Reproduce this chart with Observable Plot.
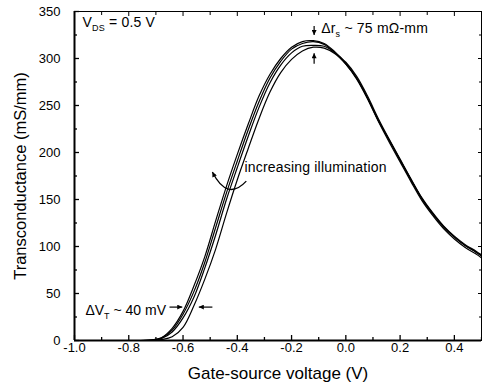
<!DOCTYPE html>
<html><head><meta charset="utf-8">
<script src="https://cdn.jsdelivr.net/npm/d3@7"></script>
<script src="https://cdn.jsdelivr.net/npm/@observablehq/plot@0.6"></script>
<style>body{margin:0;background:#fff}</style>
</head><body><div id="chart"></div>
<script>
// Gate-source voltage grid (V)
const volts = [-0.76,-0.72,-0.68,-0.64,-0.60,-0.56,-0.52,-0.48,-0.44,-0.40,-0.36,-0.32,-0.28,-0.24,-0.20,-0.16,-0.12,-0.08,-0.04,0.00,0.04,0.08,0.12,0.16,0.20,0.24,0.28,0.32,0.36,0.40,0.44,0.48,0.50];
// Transconductance (mS/mm), four illumination levels (most -> least illuminated)
const gmA = [0,0.5,3,13,31,58,89,127,164,198,230,260,283,300,312,318,319,316,307,295,279,258,234,213,192,171,151,135,121,110,101,94,90];
const gmB = [0,0.4,2.6,11,28,52,83,120,157,191,224,254,279,297,310,316,318,315,306,296,281,260,236,214,193,172,152,136,122,111,102,95,91];
const gmC = [0,0.3,2,9,24,46,77,112,150,184,217,248,274,293,306,313,314,313,306,294,278,257,233,211,190,169,149,133,119,108,99,92,88];
const gmD = [0,0,1,4,14,37,65,97,135,171,204,236,264,285,299,308,312,311,305,294,279,258,234,213,192,171,151,135,121,110,101,94,90];
const seriesNames = ["A","B","C","D"];

const xMajor = [-1.0,-0.8,-0.6,-0.4,-0.2,0.0,0.2,0.4];
const xMinor = [-0.9,-0.7,-0.5,-0.3,-0.1,0.1,0.3,0.5];
const yMajor = [0,50,100,150,200,250,300,350];
const yMinor = [25,75,125,175,225,275,325];

// annotation anchors (data units)
const vdsAt = [-0.969, 333];
const drsAt = [-0.089, 326.6];
const drsDown = [-0.115, 334, 324.5];
const drsUp = [-0.115, 294, 305];
const illumAt = [-0.372, 178.7];
const illumArrow = [[-0.365,169],[-0.435,147.3],[-0.49,178.7]];
const dvtAt = [-0.958, 26.6];
const dvtLeft = [-0.648, -0.601, 35];
const dvtRight = [-0.49, -0.540, 35];

const data = [];
[gmA,gmB,gmC,gmD].forEach((arr,k)=>arr.forEach((g,i)=>data.push({s:seriesNames[k], v:volts[i], g})));

const font = "'Liberation Sans', Arial, Helvetica, sans-serif";
const blank = () => "";
const plot = Plot.plot({
  width: 482, height: 391,
  marginLeft: 74, marginRight: 1, marginTop: 11, marginBottom: 51,
  style: {fontFamily: font, fontSize: "13px", color: "black", background: "white"},
  x: {domain: [-1, 0.5]},
  y: {domain: [0, 350]},
  marks: [
    Plot.line(data, {x:"v", y:"g", z:"s", stroke:"black", strokeWidth:1.2, curve:"catmull-rom", clip:true}),
    Plot.frame({stroke:"black", strokeWidth:1}),
    Plot.ruleX([-1], {stroke:"black", strokeWidth:2}),
    Plot.ruleY([0], {stroke:"black", strokeWidth:2}),
    Plot.axisX(xMajor, {anchor:"bottom", tickSize:-5, tickPadding:7, tickFormat:d=>d.toFixed(1), label:null, strokeWidth:1.3}),
    Plot.axisX(xMinor, {anchor:"bottom", tickSize:-3, tickFormat:blank, label:null, strokeWidth:1.3}),
    Plot.axisX(xMajor, {anchor:"top", tickSize:-4, tickFormat:blank, label:null}),
    Plot.axisX(xMinor, {anchor:"top", tickSize:-3, tickFormat:blank, label:null}),
    Plot.axisY(yMajor, {anchor:"left", tickSize:-5, tickPadding:19, tickFormat:d=>String(d), label:null, strokeWidth:1.3}),
    Plot.axisY(yMinor, {anchor:"left", tickSize:-3, tickFormat:blank, label:null, strokeWidth:1.3}),
    Plot.axisY(yMajor, {anchor:"right", tickSize:-4, tickFormat:blank, label:null}),
    Plot.axisY(yMinor, {anchor:"right", tickSize:-3, tickFormat:blank, label:null}),
    Plot.text(["Gate-source voltage (V)"], {frameAnchor:"bottom", textAnchor:"middle", dy:38, fontSize:17}),
    Plot.text(["Transconductance (mS/mm)"], {frameAnchor:"left", textAnchor:"middle", rotate:-90, dx:-54, fontSize:16.5})
  ]
});
document.getElementById("chart").appendChild(plot);

const sx = v => plot.scale("x").apply(v), sy = v => plot.scale("y").apply(v);
const svg = d3.select(plot);
svg.append("defs").append("marker").attr("id","ah").attr("viewBox","0 0 10 10")
  .attr("refX",10).attr("refY",5).attr("markerWidth",6).attr("markerHeight",5)
  .attr("markerUnits","userSpaceOnUse").attr("orient","auto")
  .append("path").attr("d","M0,0L10,5L0,10z").attr("fill","black");
const g = svg.append("g").attr("font-family", font).attr("font-size", 14).attr("fill","black")
  .attr("text-anchor","start").attr("letter-spacing", 0.2);

function subText(at, parts) {
  const t = g.append("text").attr("x", sx(at[0])).attr("y", sy(at[1]));
  parts.forEach(([s, sub]) => {
    const ts = t.append("tspan").text(s);
    if (sub === 1) ts.attr("font-size", 9).attr("dy", 4);
    if (sub === -1) ts.attr("dy", -4);
  });
  return t;
}
subText(vdsAt, [["V",0],["DS",1],[" = 0.5 V",-1]]);
subText(drsAt, [["\u0394r",0],["s",1],[" ~ 75 m\u03A9-mm",-1]]);
subText(dvtAt, [["\u0394V",0],["T",1],[" ~ 40 mV",-1]]).attr("letter-spacing", 0);
g.append("text").attr("x", sx(illumAt[0])).attr("y", sy(illumAt[1])).text("increasing illumination");

function arrow(x1,y1,x2,y2){
  g.append("line").attr("x1",sx(x1)).attr("y1",sy(y1)).attr("x2",sx(x2)).attr("y2",sy(y2))
   .attr("stroke","black").attr("stroke-width",1.2).attr("marker-end","url(#ah)");
}
arrow(drsDown[0], drsDown[1], drsDown[0], drsDown[2]);
arrow(drsUp[0], drsUp[1], drsUp[0], drsUp[2]);
arrow(dvtLeft[0], dvtLeft[2], dvtLeft[1], dvtLeft[2]);
arrow(dvtRight[0], dvtRight[2], dvtRight[1], dvtRight[2]);
const [p0,c,p2] = illumArrow;
g.append("path").attr("d", `M${sx(p0[0])},${sy(p0[1])}Q${sx(c[0])},${sy(c[1])} ${sx(p2[0])},${sy(p2[1])}`)
  .attr("fill","none").attr("stroke","black").attr("stroke-width",1.3).attr("marker-end","url(#ah)");
</script>
</body></html>
